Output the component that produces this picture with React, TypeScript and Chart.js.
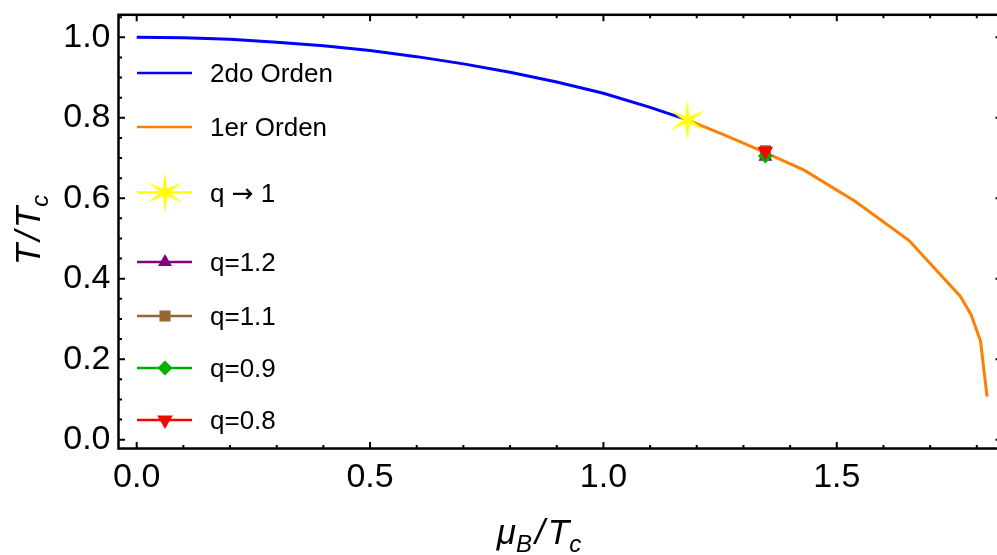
import React, { useEffect, useRef } from 'react';
import { Chart, registerables } from 'chart.js';
import { drawPoint } from 'chart.js/helpers';

Chart.register(...registerables);

// ---------- data ----------
const secondOrderMu = [0, 0.1, 0.2, 0.3, 0.4, 0.5, 0.6, 0.7, 0.8, 0.9, 1.0, 1.1, 1.18];
const secondOrderT = [1.0, 0.999, 0.995, 0.988, 0.979, 0.967, 0.952, 0.934, 0.913, 0.889, 0.861, 0.826, 0.795];
const firstOrderMu = [1.18, 1.26, 1.348, 1.43, 1.54, 1.655, 1.765, 1.788, 1.808, 1.822];
const firstOrderT = [0.795, 0.757, 0.713, 0.67, 0.592, 0.495, 0.356, 0.31, 0.245, 0.107];
const criticalMu = [1.18];
const criticalT = [0.794];
const qLabels = ['q=1.2', 'q=1.1', 'q=0.9', 'q=0.8'];
const qMu = [1.347, 1.347, 1.347, 1.347];
const qT = [0.703, 0.718, 0.705, 0.717];
const seriesLabels = ['2do Orden', '1er Orden', 'q \u2192 1'];
const xTickValues = [0, 0.5, 1.0, 1.5];
const yTickValues = [0, 0.2, 0.4, 0.6, 0.8, 1.0];
const xMinorStep = 0.1;
const yMinorStep = 0.05;
const xTitle = [
  { text: '\u03bc', sub: false },
  { text: 'B', sub: true },
  { text: '/', sub: false, pad: 3 },
  { text: 'T', sub: false },
  { text: 'c', sub: true },
];
const yTitle = [
  { text: 'T', sub: false },
  { text: '/', sub: false, pad: 3 },
  { text: 'T', sub: false },
  { text: 'c', sub: true },
];

const FONT = '"Liberation Sans", Arial, Helvetica, sans-serif';
const LEGEND_ROWS = [73, 127, 192.5, 262, 316, 368, 420];

function makeStar(color: string): HTMLCanvasElement {
  const c = document.createElement('canvas');
  c.width = 44;
  c.height = 44;
  const g = c.getContext('2d')!;
  g.translate(22, 22);
  g.beginPath();
  const outer = 20.5;
  const inner = 4.4;
  for (let i = 0; i < 12; i++) {
    const r = i % 2 === 0 ? outer : inner;
    const a = -Math.PI / 2 + (i * Math.PI) / 6;
    const px = Math.cos(a) * r;
    const py = Math.sin(a) * r;
    if (i === 0) g.moveTo(px, py);
    else g.lineTo(px, py);
  }
  g.closePath();
  g.fillStyle = color;
  g.fill();
  return c;
}

function drawRich(ctx: CanvasRenderingContext2D, parts: { text: string; sub: boolean; pad?: number }[], x: number, y: number) {
  const big = 35;
  const small = 24;
  let total = 0;
  const widths: number[] = [];
  for (const p of parts) {
    ctx.font = `italic ${p.sub ? small : big}px ${FONT}`;
    const w = ctx.measureText(p.text).width + 2 * (p.pad || 0);
    widths.push(w);
    total += w;
  }
  let cur = x - total / 2;
  parts.forEach((p, i) => {
    ctx.font = `italic ${p.sub ? small : big}px ${FONT}`;
    ctx.fillText(p.text, cur + (p.pad || 0), y + (p.sub ? 8 : 0));
    cur += widths[i];
  });
}

function drawLegendLabel(ctx: CanvasRenderingContext2D, label: string, x: number, baseline: number) {
  const pieces = label.split('\u2192');
  let cur = x;
  pieces.forEach((piece, i) => {
    ctx.font = `26px ${FONT}`;
    ctx.fillText(piece, cur, baseline);
    cur += ctx.measureText(piece).width;
    if (i < pieces.length - 1) {
      ctx.font = `26px "DejaVu Sans", sans-serif`;
      ctx.fillText('\u2192', cur, baseline);
      cur += ctx.measureText('\u2192').width;
    }
  });
}

const framePlugin = {
  id: 'frameLegendTitles',
  afterDraw(chart: any) {
    const { ctx, chartArea: a, scales } = chart;
    const xs = scales.x;
    const ys = scales.y;
    ctx.save();
    ctx.strokeStyle = '#000';
    ctx.lineCap = 'butt';
    // ticks
    const majorLen = 6.5;
    const minorLen = 3.5;
    ctx.lineWidth = 2;
    const kx0 = Math.ceil(xs.min / xMinorStep - 1e-9);
    for (let k = kx0; k * xMinorStep <= xs.max + 1e-9; k++) {
      const v = k * xMinorStep;
      const major = xTickValues.some((t) => Math.abs(t - v) < 1e-6);
      const len = major ? majorLen : minorLen;
      const px = xs.getPixelForValue(v);
      ctx.beginPath();
      ctx.moveTo(px, a.bottom);
      ctx.lineTo(px, a.bottom - len);
      ctx.moveTo(px, a.top);
      ctx.lineTo(px, a.top + len);
      ctx.stroke();
    }
    const ky0 = Math.ceil(ys.min / yMinorStep - 1e-9);
    for (let k = ky0; k * yMinorStep <= ys.max + 1e-9; k++) {
      const v = k * yMinorStep;
      const major = yTickValues.some((t) => Math.abs(t - v) < 1e-6);
      const len = major ? majorLen : minorLen;
      const py = ys.getPixelForValue(v);
      ctx.beginPath();
      ctx.moveTo(a.left, py);
      ctx.lineTo(a.left + len, py);
      ctx.moveTo(a.right, py);
      ctx.lineTo(a.right - len, py);
      ctx.stroke();
    }
    // frame
    ctx.lineWidth = 2.5;
    ctx.strokeRect(a.left, a.top, a.right - a.left, a.bottom - a.top);

    // titles
    ctx.fillStyle = '#000';
    ctx.textBaseline = 'alphabetic';
    ctx.textAlign = 'left';
    drawRich(ctx, xTitle, 539, 544);
    ctx.save();
    ctx.translate(40, 230);
    ctx.rotate(-Math.PI / 2);
    drawRich(ctx, yTitle, 0, 0);
    ctx.restore();

    // legend
    chart.data.datasets.forEach((ds: any, i: number) => {
      const ry = LEGEND_ROWS[i];
      ctx.strokeStyle = ds.legendColor;
      ctx.lineWidth = 2.5;
      ctx.beginPath();
      ctx.moveTo(137, ry);
      ctx.lineTo(192, ry);
      ctx.stroke();
      if (ds.pointStyle && ds.pointRadius > 0) {
        ctx.fillStyle = ds.backgroundColor;
        ctx.strokeStyle = ds.backgroundColor;
        drawPoint(ctx, {
          pointStyle: ds.pointStyle,
          rotation: ds.pointRotation || 0,
          radius: ds.pointRadius,
          borderWidth: 0,
        } as any, 165, ry);
      }
      ctx.fillStyle = '#000';
      ctx.textBaseline = 'alphabetic';
      drawLegendLabel(ctx, ds.label, 210, ry + 0.358 * 26);
    });
    ctx.restore();
  },
};

export default function App() {
  const ref = useRef<HTMLCanvasElement | null>(null);

  useEffect(() => {
    document.body.style.margin = '0';
    const canvas = ref.current!;
    const star = makeStar('#ffff00');
    const pts = (xs: number[], ys: number[]) => xs.map((x, i) => ({ x, y: ys[i] }));
    const markerStyles = ['triangle', 'rect', 'rectRot', 'triangle'];
    const markerColors = ['#800080', '#996633', '#00b000', '#ff0000'];
    const markerRadius = [8, 7.8, 7.5, 9];
    const markerRot = [0, 0, 0, 180];
    const markerOrder = [4, 3, 2, 1];

    const datasets: any[] = [
      {
        label: seriesLabels[0],
        data: pts(secondOrderMu, secondOrderT),
        showLine: true,
        borderColor: '#0000ff',
        legendColor: '#0000ff',
        borderWidth: 3,
        pointRadius: 0,
        order: 7,
      },
      {
        label: seriesLabels[1],
        data: pts(firstOrderMu, firstOrderT),
        showLine: true,
        borderColor: '#ff8000',
        legendColor: '#ff8000',
        borderWidth: 3,
        pointRadius: 0,
        order: 6,
      },
      {
        label: seriesLabels[2],
        data: pts(criticalMu, criticalT),
        showLine: false,
        legendColor: '#ffff00',
        backgroundColor: '#ffff00',
        pointStyle: star,
        pointRadius: 20,
        pointBorderWidth: 0,
        order: 5,
      },
      ...qLabels.map((lab, i) => ({
        label: lab,
        data: [{ x: qMu[i], y: qT[i] }],
        showLine: false,
        legendColor: markerColors[i],
        backgroundColor: markerColors[i],
        borderColor: markerColors[i],
        pointStyle: markerStyles[i],
        pointRadius: markerRadius[i],
        pointRotation: markerRot[i],
        pointBorderWidth: 0,
        order: markerOrder[i],
      })),
    ];

    const chart = new Chart(canvas, {
      type: 'scatter',
      data: { datasets },
      plugins: [framePlugin],
      options: {
        animation: false,
        responsive: false,
        devicePixelRatio: 1,
        layout: { autoPadding: false, padding: { top: 7.5, left: 0, right: 0, bottom: 0 } },
        plugins: { legend: { display: false }, tooltip: { enabled: false } },
        scales: {
          x: {
            type: 'linear',
            min: -0.039,
            max: 1.854,
            grid: { display: false, drawTicks: false },
            border: { display: false },
            afterBuildTicks: (s: any) => {
              s.ticks = xTickValues.map((v) => ({ value: v }));
            },
            afterFit: (s: any) => {
              s.height = 106.5;
            },
            ticks: {
              padding: 9,
              color: '#000',
              maxRotation: 0,
              autoSkip: false,
              font: { family: FONT, size: 34 },
              callback: (v: any) => Number(v).toFixed(1),
            },
          },
          y: {
            type: 'linear',
            min: -0.022,
            max: 1.056,
            grid: { display: false, drawTicks: false },
            border: { display: false },
            afterBuildTicks: (s: any) => {
              s.ticks = yTickValues.map((v) => ({ value: v }));
            },
            afterFit: (s: any) => {
              s.width = 118.5;
            },
            ticks: {
              padding: 8,
              color: '#000',
              autoSkip: false,
              font: { family: FONT, size: 34, lineHeight: 0.4 },
              callback: (v: any) => Number(v).toFixed(1),
            },
          },
        },
      },
    });
    return () => chart.destroy();
  }, []);

  return (
    <div style={{ width: 997, height: 555, overflow: 'hidden', background: '#fff' }}>
      <canvas ref={ref} width={1002} height={555} style={{ display: 'block' }} />
    </div>
  );
}
